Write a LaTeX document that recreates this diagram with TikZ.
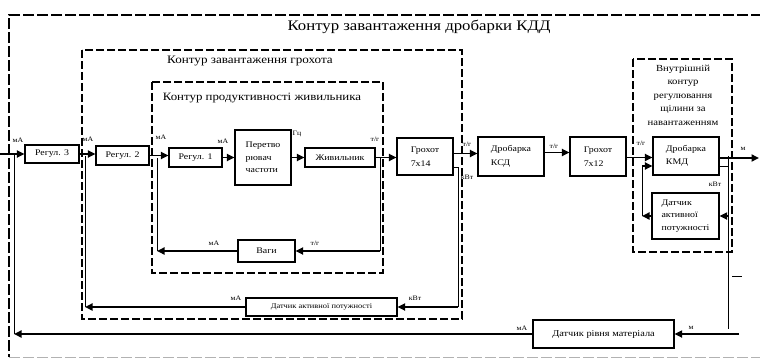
\documentclass[tikz,border=0pt]{standalone}
\usepackage{fontspec}
\setmainfont{Liberation Serif}[FakeStretch=1.15]
\usetikzlibrary{arrows.meta}
\begin{document}
\begin{tikzpicture}[x=1pt,y=-1pt,
  blk/.style={draw, line width=1.1pt, inner sep=1pt, align=left,
    font=\fontsize{8.6}{13.5}\selectfont},
  conn/.style={line width=1.8pt, -{Triangle[length=7.5pt,width=7pt]}},
  thinl/.style={line width=0.9pt},
  dbox/.style={line width=2.2pt, dash pattern=on 8pt off 3pt},
  obox/.style={line width=1.4pt, dash pattern=on 11pt off 3pt},
  lab/.style={font=\fontsize{6.8}{7}\selectfont, inner sep=0pt},
  ttl/.style={inner sep=0pt}]
\useasboundingbox (0,0) rectangle (760,362);
% contours
\draw[obox] (762,15) -- (9,15) -- (9,357);
\draw[line width=1pt, gray!60, dash pattern=on 11pt off 3pt] (9,357) -- (762,357);
\draw[dbox] (82,50) rectangle (462,319);
\draw[dbox] (152,82) rectangle (383,273);
\draw[dbox] (633,59) rectangle (732,252);
\node[ttl, font=\fontsize{14.6}{16}\selectfont] (t0) at (419,27) {Контур завантаження дробарки КДД};
\node[ttl, font=\fontsize{11.4}{12}\selectfont] (t1) at (250,61) {Контур завантаження грохота};
\node[ttl, font=\fontsize{11.2}{12}\selectfont] (t2) at (262,98) {Контур продуктивності живильника};
\node[ttl, align=center, font=\fontsize{9.3}{13.5}\selectfont] (t3) at (683,95) {Внутрішній\\контур\\регулювання\\щілини за\\навантаженням};
% blocks
\node[blk,minimum width=54pt,minimum height=18pt] (r3) at (52,154) {Регул. 3};
\node[blk,minimum width=53pt,minimum height=19pt] (r2) at (122.5,155.5) {Регул. 2};
\node[blk,minimum width=53pt,minimum height=19pt] (r1) at (195.5,157.5) {Регул. 1};
\node[blk,minimum width=56pt,minimum height=55pt,font=\fontsize{8.6}{12.5}\selectfont] (pch) at (263,157.5) {Перетво\\рювач\\частоти};
\node[blk,minimum width=70pt,minimum height=19pt] (zh) at (340,157.5) {Живильник};
\node[blk,minimum width=56pt,minimum height=37pt] (g14) at (425,156.5) {Грохот\\7х14};
\node[blk,minimum width=66pt,minimum height=39pt] (ksd) at (511,156.5) {Дробарка\\КСД};
\node[blk,minimum width=56pt,minimum height=39pt] (g12) at (598,156.5) {Грохот\\7х12};
\node[blk,minimum width=66pt,minimum height=38pt] (kmd) at (686,156) {Дробарка\\КМД};
\node[blk,minimum width=67pt,minimum height=46pt,font=\fontsize{8.6}{12.5}\selectfont] (dap2) at (685.5,216) {Датчик\\активної\\потужності};
\node[blk,minimum width=57pt,minimum height=22pt] (vag) at (266.5,251) {Ваги};
\node[blk,minimum width=151pt,minimum height=18pt,font=\fontsize{7.3}{8}\selectfont] (dap1) at (321.5,307) {Датчик активної потужності};
\node[blk,minimum width=141pt,minimum height=28pt,font=\fontsize{9}{10}\selectfont] (drm) at (603.5,334) {Датчик рівня матеріала};
% helper coordinates
\coordinate (in0) at (0,154);
\coordinate (out) at (759,0);
\coordinate (j1) at (380,0);
\coordinate (k1) at (157,0);
\coordinate (j2) at (458,0);
\coordinate (k2) at (85,0);
\coordinate (j3) at (728,0);
\coordinate (e3) at (728,329);
\coordinate (k3) at (642,0);
\coordinate (k4) at (14,0);
\coordinate (s4) at (739,334);
\coordinate (tk1) at (732,276);
\coordinate (tk2) at (742,276);
\coordinate (kin) at ([yshift=-10pt]kmd.west);
\coordinate (kout2) at ([yshift=-10pt]kmd.east);
\coordinate (gout2) at ([yshift=-10.5pt]g14.east);
% forward path
\draw[conn] (in0) -- (r3.west);
\draw[conn] (r3.east) -- (r3.east -| r2.west);
\draw[conn] (r2.east) -- (r2.east -| r1.west);
\draw[conn] (r1.east) -- (r1.east -| pch.west);
\draw[conn] (zh.west -| pch.east) -- (zh.west);
\draw[conn] (zh.east) -- (zh.east -| g14.west);
\draw[conn] ([yshift=3pt]g14.east) -- ([yshift=3pt]g14.east -| ksd.west);
\draw[conn] ([yshift=4pt]ksd.east) -- ([yshift=4pt]ksd.east -| g12.west);
\draw[conn] ([yshift=-1pt]g12.east) -- ([yshift=-1pt]g12.east -| kmd.west);
\draw[conn] ([yshift=-2pt]kmd.east) -- ([yshift=-2pt]kmd.east -| out);
% inner loop
\draw[thinl] (j1 |- zh.east) -- (j1 |- vag.east);
\draw[conn] (j1 |- vag.east) -- (vag.east);
\draw[conn] (vag.west) -- (vag.west -| k1);
\draw[thinl] (vag.west -| k1) -- (k1 |- r1.west);
% middle loop
\draw[thinl] (gout2) -| (j2 |- dap1.east);
\draw[conn] (j2 |- dap1.east) -- (dap1.east);
\draw[conn] (dap1.west) -- (dap1.west -| k2);
\draw[thinl] (dap1.west -| k2) -- (k2 |- r2.west);
% right loop
\draw[thinl] (kout2) -- (kout2 -| j3);
\draw[thinl] (j3 |- kmd.east) -- (e3);
\draw[conn] (j3 |- dap2.east) -- (dap2.east);
\draw[conn] (dap2.west) -- (dap2.west -| k3);
\draw[thinl] (dap2.west -| k3) -- (k3 |- kin);
\draw[conn] (k3 |- kin) -- (kin);
\draw[thinl] (tk1) -- (tk2);
% outer loop
\draw[conn] (s4) -- (drm.east);
\draw[conn] (drm.west) -- (drm.west -| k4);
\draw[thinl] (drm.west -| k4) -- (k4 |- r3.west);
% labels
\node[lab] (l1) at (18,140) {мА};
\node[lab] (l2) at (88,139) {мА};
\node[lab] (l3) at (161,137) {мА};
\node[lab] (l4) at (223,141) {мА};
\node[lab] (l5) at (297,134) {Гц};
\node[lab] (l6) at (375,139) {т/г};
\node[lab] (l7) at (467,144) {т/г};
\node[lab] (l8) at (467,177) {кВт};
\node[lab] (l9) at (554,146) {т/г};
\node[lab] (l10) at (641,143) {т/г};
\node[lab] (l11) at (743,149) {м};
\node[lab] (l12) at (715,184) {кВт};
\node[lab] (l13) at (214,243) {мА};
\node[lab] (l14) at (315,243) {т/г};
\node[lab] (l15) at (236,298) {мА};
\node[lab] (l16) at (415,298) {кВт};
\node[lab] (l17) at (522,328) {мА};
\node[lab] (l18) at (691,328) {м};
\end{tikzpicture}
\end{document}
